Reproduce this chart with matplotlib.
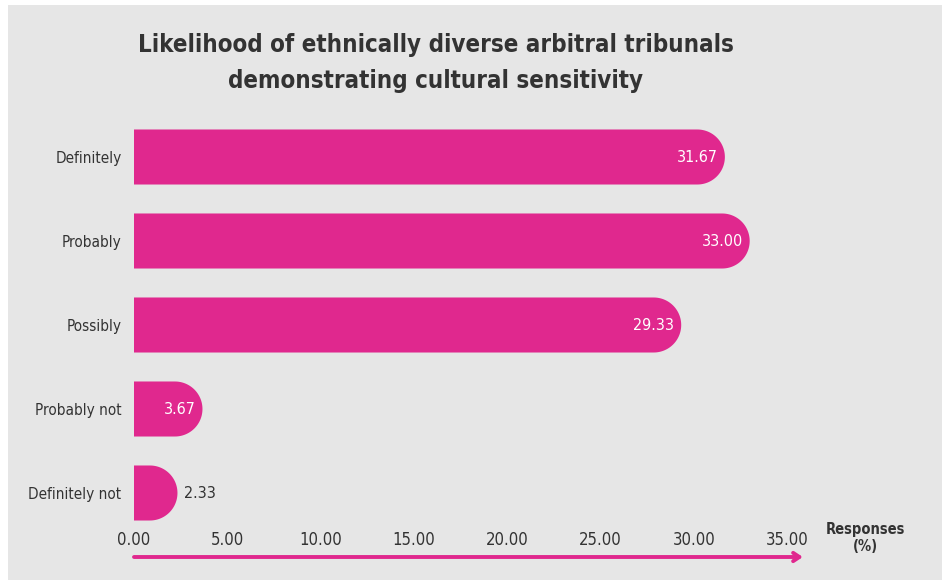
import numpy as np
import matplotlib
matplotlib.use("Agg")
import matplotlib.pyplot as plt
from matplotlib import font_manager
from matplotlib.patches import Polygon

# --- data -------------------------------------------------------------
categories = ["Definitely", "Probably", "Possibly", "Probably not", "Definitely not"]
values = [31.67, 33.00, 29.33, 3.67, 2.33]
x_ticks = [0, 5, 10, 15, 20, 25, 30, 35]
x_tick_labels = ["0.00", "5.00", "10.00", "15.00", "20.00", "25.00", "30.00", "35.00"]

title = "Likelihood of ethnically diverse arbitral tribunals\ndemonstrating cultural sensitivity"
axis_title = "Responses\n(%)"

# --- style ------------------------------------------------------------
PINK = "#E0288E"
BG = "#E6E6E6"
DARK = "#333333"

names = {f.name for f in font_manager.fontManager.ttflist}
if "Liberation Sans Narrow" in names:
    FONT = dict(family="Liberation Sans Narrow")
else:
    FONT = dict(family="DejaVu Sans", stretch="condensed")

W, H = 946, 583
fig = plt.figure(figsize=(W / 100, H / 100), dpi=100)
fig.patch.set_facecolor("white")
# grey panel behind everything
fig.patches.append(plt.Rectangle((8 / W, 1 - 580 / H), (942 - 8) / W, (580 - 5) / H,
                                 transform=fig.transFigure, facecolor=BG,
                                 edgecolor="none", zorder=-10))

x0_px, x1_px = 134, 787
top_px, bot_px = 115, 525
ax = fig.add_axes([x0_px / W, 1 - bot_px / H, (x1_px - x0_px) / W, (bot_px - top_px) / H])
ax.set_facecolor("none")
ax.set_xlim(0, 35)
ylim_bottom = 4 + (bot_px - 493) / 84
ax.set_ylim(ylim_bottom, -0.5)
for s in ax.spines.values():
    s.set_visible(False)

# pixels per data unit so the bar ends are true semicircles
sx = (x1_px - x0_px) / 35.0
bar_h = 0.655
r_px = bar_h * 84 / 2
rx = r_px / sx

t = np.linspace(-np.pi / 2, np.pi / 2, 60)
for i, v in enumerate(values):
    y = i
    cx = max(v - rx, 0)
    arc = np.column_stack([cx + rx * np.cos(t), y - (bar_h / 2) * np.sin(t)])
    pts = np.vstack([[[0, y + bar_h / 2]], arc, [[0, y - bar_h / 2]]])
    ax.add_patch(Polygon(pts, closed=True, facecolor=PINK, edgecolor="none",
                         clip_on=False))
    if v > 3:
        ax.text(v - 7 / sx, y, f"{v:.2f}", ha="right", va="center",
                color="white", fontsize=11.5, **FONT)
    else:
        ax.text(v + 7 / sx, y, f"{v:.2f}", ha="left", va="center",
                color=DARK, fontsize=11.5, **FONT)

ax.set_yticks(range(len(categories)))
ax.set_yticklabels(categories, fontsize=11, color=DARK, **FONT)
ax.set_xticks(x_ticks)
ax.set_xticklabels(x_tick_labels, fontsize=12, color=DARK, **FONT)
ax.tick_params(axis="both", length=0)
ax.tick_params(axis="y", pad=9)
ax.tick_params(axis="x", pad=4)

# arrow under the axis
ax.annotate("", xy=(35.85, 1 - 557 / H), xytext=(0, 1 - 557 / H),
            xycoords=("data", "figure fraction"), textcoords=("data", "figure fraction"),
            arrowprops=dict(arrowstyle="->,head_length=0.45,head_width=0.3",
                            color=PINK, lw=2.8, shrinkA=0, shrinkB=0),
            annotation_clip=False)

fig.text(865 / W, 1 - 538 / H, axis_title, ha="center", va="center",
         multialignment="center", fontsize=10.5, fontweight="bold", color=DARK,
         linespacing=1.15, **FONT)

fig.text(436 / W, 1 - 63 / H, title, ha="center", va="center",
         multialignment="center", fontsize=17.3, fontweight="bold", color=DARK,
         linespacing=1.6, **FONT)

fig.savefig("out.png", dpi=100, facecolor=fig.get_facecolor())
